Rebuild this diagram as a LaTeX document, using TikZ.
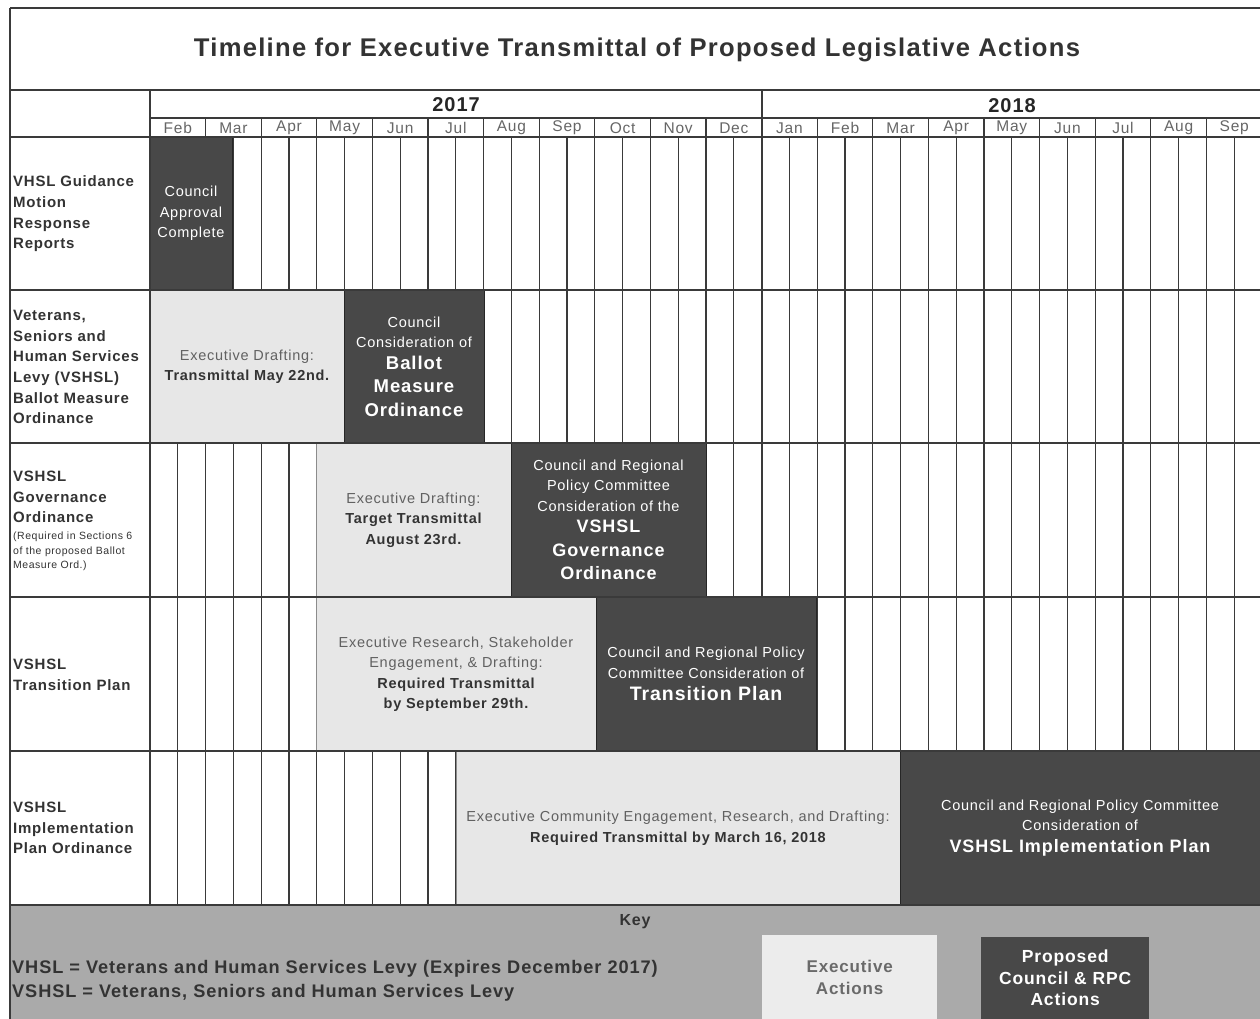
\documentclass[tikz,border=0pt]{standalone}
\usepackage{fontspec}
\setmainfont{Liberation Sans}[LetterSpace=5]
\definecolor{ink}{HTML}{333333}
\definecolor{darkbar}{HTML}{484848}
\definecolor{lightbar}{HTML}{E7E7E7}
\definecolor{keybg}{HTML}{AAAAAA}
\definecolor{gridc}{HTML}{3A3A3A}
\definecolor{monthc}{HTML}{666666}
\definecolor{exectext}{HTML}{6A6A6A}
\newcommand\smallnote{\fontsize{10.5}{15}\selectfont\mdseries}
\newcommand\inkb{\bfseries\color{ink}}
\begin{document}
\begin{tikzpicture}[x=1pt,y=-1pt,
  frameline/.style={draw=gridc,line width=1.4pt},
  gridline/.style={draw=gridc,line width=1.1pt},
  rowlabel/.style={anchor=west,align=left,text=ink,inner sep=0,
    font=\fontsize{15}{20.7}\selectfont\bfseries},
  bsize/.style 2 args={minimum width=#1pt,minimum height=#2pt},
  cbar/.style={fill=darkbar,draw=black!85,line width=0.8pt,text=white,
    align=center,anchor=north west,inner sep=0,outer sep=0,
    font=\fontsize{14.5}{20.5}\selectfont},
  ebar/.style={fill=lightbar,draw=black!45,line width=0.8pt,text=black!62,
    align=center,anchor=north west,inner sep=0,outer sep=0,
    font=\fontsize{14.5}{20.5}\selectfont},
  monthlbl/.style={text=monthc,inner sep=0,font=\fontsize{15.5}{16}\selectfont},
  yearlbl/.style={text=black!85,inner sep=0,font=\fontsize{20}{22}\selectfont\bfseries},
]
\useasboundingbox (0,0) rectangle (1260,1019);
\fill[white] (0,0) rectangle (1260,1019);

% title
\node[text=ink,inner sep=0,font=\fontsize{25.6}{30}\selectfont\bfseries] (title) at (637,50)
  {Timeline for Executive Transmittal of Proposed Legislative Actions};

% grid lines in the body
\foreach \k in {1,...,39}
  \draw[gridline] ({150+27.8*\k},137) -- ({150+27.8*\k},905);
\draw[draw=gridc,line width=2pt] (762,90) -- (762,905);

% bars
\node[cbar,bsize={82}{153}] (b1) at (150,137) {Council\\Approval\\Complete};
\node[ebar,bsize={194}{153}] (e2) at (150,290)
  {Executive Drafting:\\{\inkb Transmittal May 22nd.}};
\node[cbar,bsize={140}{153}] (b2) at (344,290)
  {Council\\Consideration of\\[1pt]{\fontsize{18.5}{24}\selectfont\bfseries Ballot}\\[3pt]{\fontsize{18.5}{24}\selectfont\bfseries Measure}\\[3pt]{\fontsize{18.5}{24}\selectfont\bfseries Ordinance}};
\node[ebar,bsize={195}{154}] (e3) at (316,443)
  {Executive Drafting:\\{\inkb Target Transmittal}\\{\inkb August 23rd.}};
\node[cbar,bsize={195}{154}] (b3) at (511,443)
  {Council and Regional\\Policy Committee\\Consideration of the\\[1pt]{\fontsize{18}{24}\selectfont\bfseries VSHSL}\\[3pt]{\fontsize{18}{24}\selectfont\bfseries Governance}\\[3pt]{\fontsize{18}{24}\selectfont\bfseries Ordinance}};
\node[ebar,bsize={280}{154}] (e4) at (316,597)
  {Executive Research, Stakeholder\\Engagement, \& Drafting:\\{\inkb Required Transmittal}\\{\inkb by September 29th.}};
\node[cbar,bsize={220}{154}] (b4) at (596,597)
  {Council and Regional Policy\\Committee Consideration of\\[2pt]{\fontsize{19.5}{24}\selectfont\bfseries Transition Plan}};
\node[ebar,bsize={444}{154}] (e5) at (456,751)
  {Executive Community Engagement, Research, and Drafting:\\{\inkb Required Transmittal by March 16, 2018}};
\node[cbar,bsize={360}{154}] (b5) at (900,751)
  {Council and Regional Policy Committee\\Consideration of\\[1pt]{\fontsize{18}{24}\selectfont\bfseries VSHSL Implementation Plan}};

% key band
\fill[keybg] (10,905) rectangle (1260,1019);
\node[text=ink,inner sep=0,font=\fontsize{16}{18}\selectfont\bfseries] (keylbl) at (635,922) {Key};
\node[anchor=west,align=left,text=ink,inner sep=0,font=\fontsize{18.2}{24.5}\selectfont\bfseries] (keytext) at (12,981)
  {VHSL = Veterans and Human Services Levy (Expires December 2017)\\VSHSL = Veterans, Seniors and Human Services Levy};
\node[fill=lightbar!80!white,text=exectext,anchor=north west,inner sep=0,align=center,
  minimum width=175pt,minimum height=84pt,font=\fontsize{17}{22}\selectfont\bfseries] (keyexec) at (762,935)
  {Executive\\Actions};
\node[fill=darkbar,text=white,anchor=north west,inner sep=0,align=center,
  minimum width=168pt,minimum height=82pt,font=\fontsize{17.5}{21.5}\selectfont\bfseries] (keycouncil) at (981,937)
  {Proposed\\Council \& RPC\\Actions};

% frame & table lines
\draw[frameline] (10,8) -- (1260,8);
\draw[frameline] (10,8) -- (10,1019);
\draw[frameline] (10,90) -- (1260,90);
\draw[frameline] (150,118) -- (1260,118);
\foreach \yy in {137,290,443,597,751,905}
  \draw[frameline] (10,\yy) -- (1260,\yy);
\draw[frameline] (150,90) -- (150,905);
\foreach \i in {1,...,19}
  \draw[gridline] ({150+55.6*\i},118) -- ({150+55.6*\i},137);

% years and months
\node[yearlbl] (y2017) at (456,105) {2017};
\node[yearlbl] (y2018) at (1012,106) {2018};
\foreach \m [count=\i from 0] in {Feb,Mar,Apr,May,Jun,Jul,Aug,Sep,Oct,Nov,Dec,Jan,Feb,Mar,Apr,May,Jun,Jul,Aug,Sep}
  \node[monthlbl] (m\i) at ({150+55.6*\i+27.8},128) {\m};

% row labels
\node[rowlabel] (r1) at (13,214) {VHSL Guidance\\Motion\\Response\\Reports};
\node[rowlabel] (r2) at (13,367) {Veterans,\\Seniors and\\Human Services\\Levy (VSHSL)\\Ballot Measure\\Ordinance};
\node[rowlabel] (r3) at (13,521) {VSHSL\\Governance\\Ordinance\\[-4pt]{\smallnote (Required in Sections 6}\\[-6pt]{\smallnote of the proposed Ballot}\\[-6pt]{\smallnote Measure Ord.)}};
\node[rowlabel] (r4) at (13,675) {VSHSL\\Transition Plan};
\node[rowlabel] (r5) at (13,828) {VSHSL\\Implementation\\Plan Ordinance};
\end{tikzpicture}
\end{document}
